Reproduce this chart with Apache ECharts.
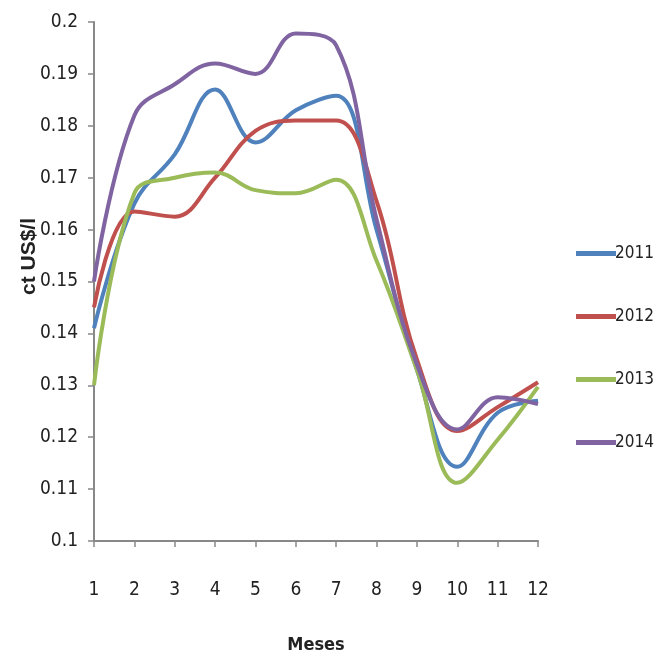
<!DOCTYPE html>
<html>
<head>
<meta charset="utf-8">
<script src="https://cdn.jsdelivr.net/npm/echarts@6/dist/echarts.min.js"></script>
<style>html,body{margin:0;padding:0;background:#fff;}#c{width:658px;height:652px;}</style>
</head>
<body>
<div id="c"></div>
<script>
const months = ['1','2','3','4','5','6','7','8','9','10','11','12'];
const yearNames = ['2011','2012','2013','2014'];
const s2011 = [0.141,0.165,0.1745,0.187,0.1768,0.183,0.1858,0.160,0.133,0.1143,0.1247,0.127];
const s2012 = [0.145,0.1635,0.1625,0.170,0.179,0.181,0.181,0.1655,0.135,0.1212,0.1258,0.1306];
const s2013 = [0.130,0.167,0.170,0.171,0.1676,0.167,0.1696,0.154,0.133,0.1112,0.1195,0.1297];
const s2014 = [0.150,0.182,0.188,0.192,0.190,0.1978,0.1955,0.162,0.134,0.1215,0.1277,0.1264];
const colors = ['#4F81BD','#C0504D','#9BBB59','#8064A2'];
const allSeries = [s2011,s2012,s2013,s2014];
const font = "'DejaVu Sans Condensed', 'Liberation Sans', sans-serif";

const chart = echarts.init(document.getElementById('c'));
chart.setOption({
  animation:false,
  backgroundColor:'#fff',
  grid:{left:94,right:120,top:22,bottom:111,containLabel:false,outerBoundsMode:'none'},
  legend:{
    orient:'vertical', left:571, top:240, itemGap:46,
    icon:'rect', itemWidth:40, itemHeight:5,
    textStyle:{fontFamily:font,fontSize:17,color:'#222',padding:[0,0,0,-6]},
    data:yearNames
  },
  xAxis:{
    type:'category', data:months, boundaryGap:false,
    name:'Meses', nameLocation:'middle', nameGap:95, nameMoveOverlap:false,
    nameTextStyle:{fontFamily:font,fontSize:18,fontWeight:'bold',color:'#222'},
    axisLine:{lineStyle:{color:'#888',width:2}},
    axisTick:{show:true,length:6,alignWithLabel:true,lineStyle:{color:'#888',width:1.5}},
    axisLabel:{fontFamily:font,fontSize:19,color:'#222',margin:40},
    splitLine:{show:false}
  },
  yAxis:{
    type:'value', min:0.1, max:0.2, interval:0.01,
    name:'ct US$/l', nameLocation:'middle', nameGap:54, nameRotate:90, nameMoveOverlap:false,
    nameTextStyle:{fontFamily:'Liberation Sans, sans-serif',fontSize:21,fontWeight:'bold',color:'#222',padding:[0,0,0,50]},
    axisLine:{show:true,lineStyle:{color:'#888',width:2}},
    axisTick:{show:true,length:6,lineStyle:{color:'#888',width:1.5}},
    axisLabel:{fontFamily:font,fontSize:19,color:'#222',margin:16,
      formatter:function(v){return String(Math.round(v*100)/100);}},
    splitLine:{show:false}
  },
  series: yearNames.map((n,i)=>({
    name:n, type:'line', data:allSeries[i], smooth:0.4, showSymbol:false,
    lineStyle:{color:colors[i],width:4}, itemStyle:{color:colors[i]}
  }))
});
</script>
</body>
</html>
